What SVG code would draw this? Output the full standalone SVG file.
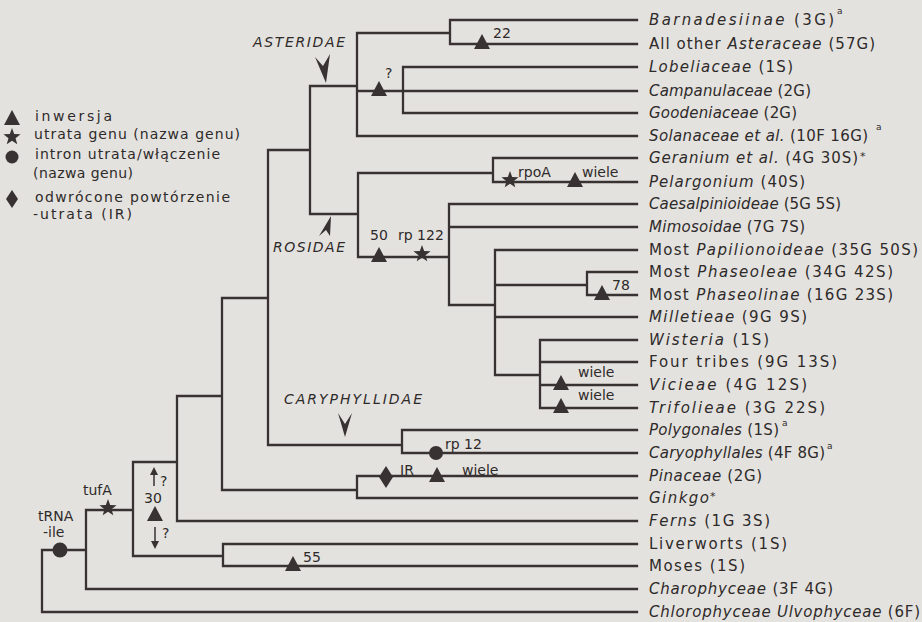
<svg xmlns="http://www.w3.org/2000/svg" xmlns:xlink="http://www.w3.org/1999/xlink" width="922" height="622" viewBox="0 0 922 622">
<style>
.ln{fill:none;stroke:#383232;stroke-width:2.3;stroke-linejoin:miter;stroke-linecap:square}
.mk{fill:#383232}
.ar{fill:none;stroke:#383232;stroke-width:1.5}
.t{font-family:"DejaVu Sans","Liberation Sans",sans-serif;font-size:15px;fill:#2e2a2a}
.i{font-style:italic}
.sm{font-size:14px}
.lg{font-size:14px}
.sup{font-size:9px}
.ast{font-size:11px}
</style>
<defs>
<path id="tri" d="M0,-10 L8,5 L-8,5 Z"/>
<polygon id="star" points="0,-9 2.17,-2.99 8.56,-2.78 3.52,1.14 5.29,7.28 0,3.7 -5.29,7.28 -3.52,1.14 -8.56,-2.78 -2.17,-2.99"/>
</defs>
<rect width="922" height="622" fill="#e4e2de"/>

<g id="connectors">
<path class="ln" d="M42,550 V612 H637 M42,550 H86 M86,510 V589 H637 M86,510 H133 M133,462 V556 H223 M223,544 V566 H637 M223,544 H637 M133,462 H177 M177,396 V521 H637 M177,396 H222 M222,298 V490 H357 M357,476 V498 H637 M357,476 H637 M222,298 H268 M268,150 V445 H402 M402,430 V453 H637 M402,430 H637 M268,150 H310 M310,86 V214 H358 M358,173 V257 H449 M449,204 V305 H495 M449,204 H637 M449,227 H637 M495,250 V375 H540 M495,250 H637 M495,285 H587 M495,317 H637 M587,272 V295 H637 M587,272 H637 M540,340 V408 H637 M540,340 H637 M540,362 H637 M540,385 H637 M358,173 H493 M493,158 V182 H637 M493,158 H637 M310,86 H357 M357,33 V136 H637 M357,33 H450 M357,91 H637 M450,20 V44 H637 M450,20 H637 M403,67 V113 H637 M403,67 H637"/>
</g>

<g id="legend">
<use href="#tri" class="mk" transform="translate(12,120)"/>
<text class="t lg" x="35" y="121" textLength="77" lengthAdjust="spacing">inwersja</text>
<use href="#star" class="mk" transform="translate(12,137)"/>
<text class="t lg" x="34" y="139" textLength="206" lengthAdjust="spacing">utrata genu (nazwa genu)</text>
<circle class="mk" cx="12" cy="157" r="6.5"/>
<text class="t lg" x="35" y="159" textLength="185" lengthAdjust="spacing">intron utrata/włączenie</text>
<text class="t lg" x="33" y="178" textLength="100" lengthAdjust="spacing">(nazwa genu)</text>
<path class="mk" d="M12,190 L18,199 L12,208 L6,199 Z"/>
<text class="t lg" x="35" y="202" textLength="195" lengthAdjust="spacing">odwrócone powtórzenie</text>
<text class="t lg" x="33" y="219" textLength="99" lengthAdjust="spacing">-utrata (IR)</text>
</g>

<g id="clade-asteridae">
<text class="t i sm" x="253" y="47" textLength="92" lengthAdjust="spacing">ASTERIDAE</text>
<path class="mk" d="M326,83 L315,57 L323,66 L330,54 Z"/>
</g>
<g id="clade-rosidae">
<text class="t i sm" x="273" y="252" textLength="72" lengthAdjust="spacing">ROSIDAE</text>
<path class="mk" d="M331,216 L319,236 L326,230 L330,236 Z"/>
</g>
<g id="clade-caryophyllidae">
<text class="t i sm" x="284" y="404" textLength="138" lengthAdjust="spacing">CARYPHYLLIDAE</text>
<path class="mk" d="M345,437 L338,413 L345,424 L352,413 Z"/>
</g>

<g id="events">
<use href="#tri" class="mk" transform="translate(482,44)"/>
<text class="t sm" x="493" y="38">22</text>
<use href="#tri" class="mk" transform="translate(379,91)"/>
<text class="t sm" x="385" y="78">?</text>
<use href="#star" class="mk" transform="translate(510,180)"/>
<text class="t sm" x="518" y="177">rpoA</text>
<use href="#tri" class="mk" transform="translate(575,182)"/>
<text class="t sm" x="582" y="177">wiele</text>
<use href="#tri" class="mk" transform="translate(379,257)"/>
<text class="t sm" x="370" y="240">50</text>
<use href="#star" class="mk" transform="translate(422,254)"/>
<text class="t sm" x="398" y="240">rp 122</text>
<use href="#tri" class="mk" transform="translate(602,295)"/>
<text class="t sm" x="612" y="290">78</text>
<use href="#tri" class="mk" transform="translate(561,385)"/>
<text class="t sm" x="578" y="377">wiele</text>
<use href="#tri" class="mk" transform="translate(561,408)"/>
<text class="t sm" x="578" y="400">wiele</text>
<circle class="mk" cx="436" cy="453" r="7"/>
<text class="t sm" x="445" y="449">rp 12</text>
<path class="mk" d="M386,466 L393,477 L386,488 L379,477 Z"/>
<text class="t sm" x="400" y="475">IR</text>
<use href="#tri" class="mk" transform="translate(437,477)"/>
<text class="t sm" x="462" y="475">wiele</text>
<use href="#tri" class="mk" transform="translate(293,566)"/>
<text class="t sm" x="303" y="562">55</text>
<use href="#tri" class="mk" transform="translate(155,516)"/>
<text class="t sm" x="144" y="503">30</text>
<path class="ar" d="M154,486 V471"/>
<path class="mk" d="M150,475 L154,467 L158,475 Z"/>
<text class="t sm" x="160" y="486">?</text>
<path class="ar" d="M155,527 V544"/>
<path class="mk" d="M151,541 L155,549 L159,541 Z"/>
<text class="t sm" x="162" y="538">?</text>
<use href="#star" class="mk" transform="translate(108,508)"/>
<text class="t sm" x="83" y="495">tufA</text>
<circle class="mk" cx="60" cy="550" r="7.5"/>
<text class="t sm" x="38" y="521">tRNA</text>
<text class="t sm" x="43" y="537">-ile</text>
</g>

<g id="leaf-barnadesiinae"><text class="t" x="649" y="25" textLength="185" lengthAdjust="spacing"><tspan class="i">Barnadesiinae</tspan> (3G)</text><text class="t sup" x="837" y="14">a</text></g>
<g id="leaf-asteraceae"><text class="t" x="649" y="49" textLength="226" lengthAdjust="spacing">All other <tspan class="i">Asteraceae</tspan> (57G)</text></g>
<g id="leaf-lobeliaceae"><text class="t" x="649" y="72" textLength="144" lengthAdjust="spacing"><tspan class="i">Lobeliaceae</tspan> (1S)</text></g>
<g id="leaf-campanulaceae"><text class="t" x="649" y="96" textLength="162" lengthAdjust="spacing"><tspan class="i">Campanulaceae</tspan> (2G)</text></g>
<g id="leaf-goodeniaceae"><text class="t" x="649" y="118" textLength="148" lengthAdjust="spacing"><tspan class="i">Goodeniaceae</tspan> (2G)</text></g>
<g id="leaf-solanaceae"><text class="t" x="649" y="141" textLength="219" lengthAdjust="spacing"><tspan class="i">Solanaceae et al.</tspan> (10F 16G)</text><text class="t sup" x="876" y="130">a</text></g>
<g id="leaf-geranium"><text class="t" x="649" y="163" textLength="209" lengthAdjust="spacing"><tspan class="i">Geranium et al.</tspan> (4G 30S)</text><text class="t ast" x="860" y="160">*</text></g>
<g id="leaf-pelargonium"><text class="t" x="649" y="187" textLength="156" lengthAdjust="spacing"><tspan class="i">Pelargonium</tspan> (40S)</text></g>
<g id="leaf-caesalpinioideae"><text class="t" x="649" y="209" textLength="192" lengthAdjust="spacing"><tspan class="i">Caesalpinioideae</tspan> (5G 5S)</text></g>
<g id="leaf-mimosoidae"><text class="t" x="649" y="232" textLength="156" lengthAdjust="spacing"><tspan class="i">Mimosoidae</tspan> (7G 7S)</text></g>
<g id="leaf-papilionoideae"><text class="t" x="649" y="255" textLength="269" lengthAdjust="spacing">Most <tspan class="i">Papilionoideae</tspan> (35G 50S)</text></g>
<g id="leaf-phaseoleae"><text class="t" x="649" y="277" textLength="244" lengthAdjust="spacing">Most <tspan class="i">Phaseoleae</tspan> (34G 42S)</text></g>
<g id="leaf-phaseolinae"><text class="t" x="649" y="300" textLength="244" lengthAdjust="spacing">Most <tspan class="i">Phaseolinae</tspan> (16G 23S)</text></g>
<g id="leaf-milletieae"><text class="t" x="649" y="322" textLength="158" lengthAdjust="spacing"><tspan class="i">Milletieae</tspan> (9G 9S)</text></g>
<g id="leaf-wisteria"><text class="t" x="649" y="345" textLength="120" lengthAdjust="spacing"><tspan class="i">Wisteria</tspan> (1S)</text></g>
<g id="leaf-four-tribes"><text class="t" x="649" y="367" textLength="188" lengthAdjust="spacing">Four tribes (9G 13S)</text></g>
<g id="leaf-vicieae"><text class="t" x="649" y="390" textLength="158" lengthAdjust="spacing"><tspan class="i">Vicieae</tspan> (4G 12S)</text></g>
<g id="leaf-trifolieae"><text class="t" x="649" y="413" textLength="176" lengthAdjust="spacing"><tspan class="i">Trifolieae</tspan> (3G 22S)</text></g>
<g id="leaf-polygonales"><text class="t" x="649" y="435" textLength="130" lengthAdjust="spacing"><tspan class="i">Polygonales</tspan> (1S)</text><text class="t sup" x="782" y="426">a</text></g>
<g id="leaf-caryophyllales"><text class="t" x="649" y="458" textLength="176" lengthAdjust="spacing"><tspan class="i">Caryophyllales</tspan> (4F 8G)</text><text class="t sup" x="827" y="449">a</text></g>
<g id="leaf-pinaceae"><text class="t" x="649" y="481" textLength="113" lengthAdjust="spacing"><tspan class="i">Pinaceae</tspan> (2G)</text></g>
<g id="leaf-ginkgo"><text class="t i" x="649" y="503" textLength="60" lengthAdjust="spacing">Ginkgo</text><text class="t ast" x="710" y="500">*</text></g>
<g id="leaf-ferns"><text class="t" x="649" y="526" textLength="121" lengthAdjust="spacing"><tspan class="i">Ferns</tspan> (1G 3S)</text></g>
<g id="leaf-liverworts"><text class="t" x="649" y="549" textLength="138" lengthAdjust="spacing">Liverworts (1S)</text></g>
<g id="leaf-moses"><text class="t" x="649" y="571" textLength="96" lengthAdjust="spacing">Moses (1S)</text></g>
<g id="leaf-charophyceae"><text class="t" x="649" y="594" textLength="184" lengthAdjust="spacing"><tspan class="i">Charophyceae</tspan> (3F 4G)</text></g>
<g id="leaf-chlorophyceae"><text class="t" x="649" y="617" textLength="271" lengthAdjust="spacing"><tspan class="i">Chlorophyceae Ulvophyceae</tspan> (6F)</text></g>
</svg>
